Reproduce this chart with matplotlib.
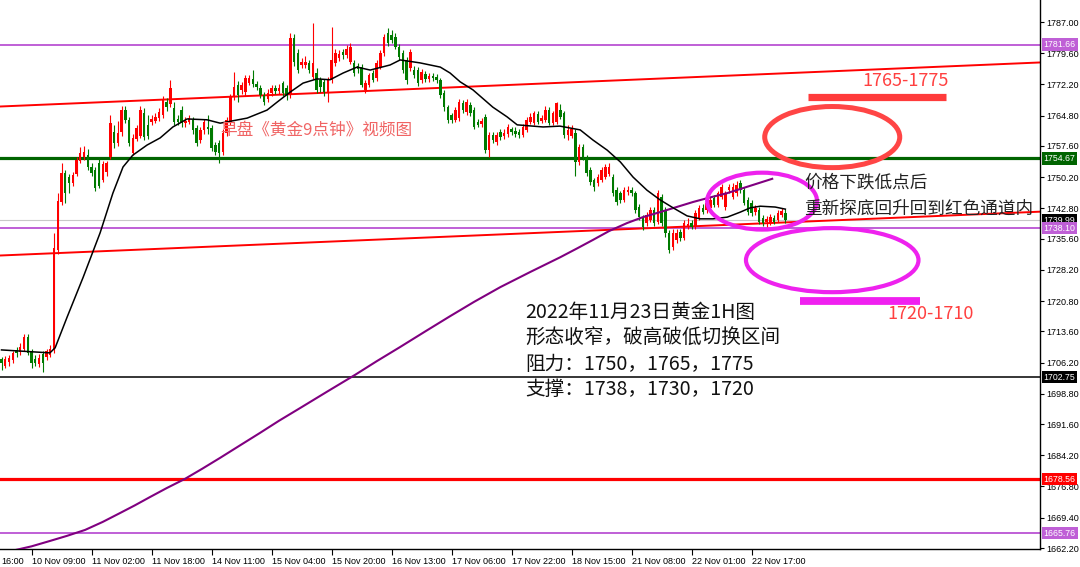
import matplotlib
matplotlib.use("Agg")
import matplotlib.pyplot as plt
from matplotlib.patches import Ellipse

plt.rcParams['font.family'] = ['Noto Sans CJK SC', 'DejaVu Sans']

# 1小时K线 (开, 高, 低, 收), 从图上读出来的
opens = [1707.0, 1705.5, 1706.3, 1706.8, 1709.3, 1708.6, 1709.5, 1712.3, 1708.8, 1707.0,
         1705.8, 1708.2, 1707.5, 1708.0, 1709.2, 1733.0, 1744.3, 1751.2, 1750.2, 1748.8,
         1751.0, 1754.0, 1755.0, 1755.5, 1752.6, 1751.9, 1753.5, 1749.5, 1751.5, 1755.0,
         1760.9, 1758.3, 1760.9, 1766.1, 1763.8, 1756.0, 1759.3, 1760.0, 1765.4, 1762.5,
         1763.3, 1763.5, 1764.2, 1764.9, 1768.0, 1767.5, 1766.6, 1764.0, 1766.1, 1763.0,
         1763.3, 1763.8, 1761.9, 1759.0, 1761.4, 1762.2, 1761.9, 1757.8, 1758.3, 1756.2,
         1760.7, 1763.3, 1769.2, 1772.1, 1770.9, 1770.4, 1772.5, 1773.5, 1772.3, 1771.4,
         1769.7, 1768.7, 1770.2, 1771.3, 1770.6, 1772.5, 1771.4, 1769.7, 1783.2, 1779.6,
         1776.8, 1776.9, 1777.3, 1774.0, 1774.9, 1773.2, 1772.8, 1770.4, 1773.2, 1777.3,
         1778.4, 1779.8, 1779.1, 1777.5, 1777.3, 1776.5, 1776.3, 1770.9, 1772.1, 1774.9,
         1773.7, 1776.3, 1779.6, 1784.4, 1783.9, 1783.4, 1781.1, 1779.6, 1778.0, 1776.0,
         1775.6, 1775.6, 1773.2, 1774.6, 1773.5, 1774.1, 1774.0, 1773.2, 1770.2, 1766.8,
         1764.9, 1763.8, 1764.2, 1767.8, 1765.7, 1767.3, 1766.1, 1763.3, 1762.8, 1764.5,
         1756.6, 1760.2, 1758.5, 1760.9, 1759.9, 1760.4, 1761.6, 1761.2, 1761.0, 1760.2,
         1761.4, 1763.3, 1763.0, 1765.2, 1763.5, 1763.8, 1766.1, 1763.0, 1763.3, 1766.1,
         1765.4, 1760.2, 1760.0, 1760.7, 1753.8, 1757.3, 1754.7, 1751.9, 1749.5, 1748.8,
         1749.5, 1750.2, 1751.0, 1750.2, 1747.1, 1746.4, 1744.8, 1746.6, 1747.1, 1746.4,
         1743.1, 1740.7, 1739.3, 1740.0, 1742.4, 1739.6, 1745.5, 1742.4, 1737.0, 1733.6,
         1735.3, 1737.2, 1735.8, 1738.6, 1739.3, 1738.4, 1740.5, 1742.9, 1742.4, 1742.9,
         1745.3, 1743.6, 1745.5, 1743.1, 1747.1, 1745.5, 1746.4, 1748.8, 1747.1, 1744.8,
         1744.1, 1741.9, 1742.4, 1740.5, 1739.5, 1739.3, 1740.5, 1740.0, 1741.2, 1741.7]
highs = [1707.5, 1707.8, 1708.0, 1709.0, 1710.0, 1710.8, 1713.0, 1713.0, 1709.5, 1708.0,
         1708.2, 1709.0, 1709.5, 1710.3, 1737.0, 1746.5, 1753.5, 1752.0, 1751.0, 1751.5,
         1755.0, 1757.3, 1757.5, 1756.8, 1753.5, 1752.5, 1754.5, 1754.0, 1754.0, 1765.0,
         1762.5, 1763.5, 1767.0, 1767.0, 1764.5, 1760.5, 1762.5, 1767.0, 1766.5, 1765.0,
         1765.0, 1765.3, 1766.5, 1769.5, 1769.0, 1773.2, 1768.0, 1765.0, 1767.0, 1764.5,
         1765.0, 1764.5, 1762.5, 1762.0, 1764.0, 1765.0, 1762.5, 1758.5, 1759.0, 1761.5,
         1764.5, 1770.0, 1775.1, 1773.0, 1772.8, 1774.5, 1774.5, 1775.5, 1773.0, 1772.0,
         1770.5, 1771.0, 1772.0, 1772.0, 1772.2, 1773.0, 1772.0, 1784.4, 1784.2, 1780.5,
         1778.5, 1779.0, 1778.0, 1786.8, 1776.0, 1774.0, 1773.5, 1774.0, 1785.8, 1780.5,
         1780.3, 1780.5, 1781.5, 1782.0, 1778.0, 1777.3, 1777.0, 1773.2, 1775.0, 1775.6,
         1778.0, 1780.3, 1784.2, 1785.5, 1785.0, 1784.3, 1781.8, 1780.3, 1778.8, 1780.5,
         1776.5, 1776.3, 1775.8, 1775.3, 1775.0, 1774.8, 1774.7, 1773.8, 1770.9, 1767.3,
         1765.5, 1766.8, 1768.8, 1768.5, 1768.7, 1768.0, 1766.8, 1764.0, 1764.2, 1765.2,
         1761.0, 1761.0, 1761.0, 1761.5, 1761.5, 1762.8, 1762.2, 1762.0, 1761.5, 1762.8,
         1764.5, 1765.3, 1766.0, 1766.0, 1765.0, 1767.0, 1766.8, 1766.0, 1768.0, 1767.5,
         1766.0, 1762.5, 1762.5, 1761.5, 1758.0, 1758.0, 1755.5, 1752.5, 1750.0, 1751.0,
         1752.5, 1753.3, 1753.5, 1751.0, 1747.8, 1747.0, 1747.8, 1748.0, 1747.8, 1747.0,
         1743.8, 1741.3, 1742.0, 1743.0, 1743.0, 1747.1, 1746.2, 1743.0, 1737.6, 1737.8,
         1737.8, 1738.0, 1740.0, 1740.5, 1740.0, 1742.5, 1743.5, 1743.8, 1744.8, 1745.5,
         1746.0, 1747.0, 1748.5, 1747.0, 1748.5, 1748.8, 1749.3, 1749.5, 1747.8, 1745.5,
         1744.8, 1743.5, 1743.0, 1741.2, 1741.0, 1741.5, 1741.2, 1742.4, 1742.9, 1742.6]
lows = [1704.5, 1704.8, 1705.5, 1706.0, 1707.5, 1708.0, 1709.0, 1708.0, 1705.0, 1705.5,
        1705.2, 1704.0, 1706.8, 1707.5, 1708.5, 1732.0, 1743.5, 1744.0, 1746.5, 1748.0,
        1750.5, 1753.5, 1754.3, 1752.0, 1750.5, 1747.0, 1747.5, 1749.0, 1750.5, 1754.5,
        1757.0, 1757.5, 1760.0, 1763.0, 1757.5, 1755.5, 1758.8, 1759.5, 1759.0, 1759.2,
        1762.5, 1763.0, 1763.5, 1764.3, 1766.0, 1766.8, 1762.5, 1762.5, 1762.0, 1762.0,
        1762.8, 1760.5, 1757.5, 1758.3, 1760.5, 1760.5, 1756.5, 1755.5, 1753.5, 1755.5,
        1760.0, 1762.5, 1768.5, 1768.0, 1770.0, 1769.5, 1772.0, 1771.5, 1770.8, 1769.0,
        1767.3, 1768.0, 1769.5, 1770.0, 1770.0, 1769.5, 1768.5, 1769.0, 1776.5, 1775.0,
        1776.0, 1776.0, 1775.0, 1773.5, 1770.2, 1770.5, 1769.5, 1768.0, 1772.5, 1776.5,
        1777.8, 1778.3, 1778.5, 1777.0, 1774.3, 1775.0, 1771.5, 1770.2, 1771.5, 1772.8,
        1773.0, 1775.8, 1779.0, 1781.3, 1782.0, 1780.5, 1778.0, 1775.0, 1772.3, 1775.3,
        1773.8, 1771.7, 1772.5, 1772.8, 1772.8, 1773.0, 1772.5, 1769.0, 1766.0, 1763.0,
        1763.0, 1763.2, 1763.5, 1765.5, 1765.0, 1764.8, 1761.5, 1762.0, 1762.2, 1756.0,
        1755.0, 1758.3, 1757.8, 1759.0, 1759.3, 1759.8, 1760.2, 1759.8, 1759.5, 1759.7,
        1761.0, 1762.8, 1762.5, 1762.7, 1763.0, 1763.3, 1762.5, 1762.5, 1762.8, 1764.0,
        1759.5, 1759.0, 1759.5, 1750.5, 1753.0, 1754.3, 1750.5, 1748.3, 1747.0, 1748.0,
        1749.0, 1749.8, 1750.5, 1745.7, 1743.5, 1744.0, 1744.3, 1746.0, 1745.8, 1741.7,
        1740.0, 1737.7, 1738.6, 1739.5, 1738.6, 1739.0, 1738.6, 1736.0, 1732.2, 1733.0,
        1734.5, 1735.0, 1735.2, 1738.0, 1737.8, 1737.8, 1740.0, 1741.5, 1741.8, 1742.3,
        1743.0, 1743.0, 1745.0, 1742.5, 1746.5, 1745.0, 1745.8, 1746.5, 1743.5, 1741.2,
        1741.0, 1741.3, 1739.0, 1738.6, 1738.4, 1738.8, 1739.0, 1739.5, 1740.7, 1739.3]
closes = [1706.0, 1707.0, 1707.3, 1708.5, 1708.4, 1710.0, 1712.3, 1708.5, 1706.2, 1706.0,
          1707.4, 1706.0, 1709.0, 1709.5, 1733.5, 1744.5, 1751.2, 1746.4, 1748.8, 1750.7,
          1754.3, 1755.9, 1756.2, 1752.6, 1751.2, 1747.6, 1748.0, 1753.3, 1753.5, 1763.0,
          1758.3, 1760.7, 1766.1, 1763.8, 1758.3, 1759.5, 1761.9, 1766.1, 1759.7, 1760.0,
          1764.0, 1764.5, 1765.7, 1768.5, 1766.8, 1771.4, 1763.3, 1763.3, 1763.0, 1763.5,
          1764.2, 1761.4, 1758.3, 1761.4, 1763.3, 1761.6, 1757.1, 1756.2, 1756.0, 1760.7,
          1763.8, 1769.2, 1771.6, 1769.7, 1772.1, 1773.7, 1773.7, 1772.3, 1771.6, 1769.7,
          1768.0, 1770.2, 1771.4, 1770.6, 1771.4, 1770.2, 1769.7, 1783.2, 1777.5, 1775.6,
          1777.5, 1777.6, 1775.6, 1777.3, 1770.9, 1771.6, 1770.4, 1773.2, 1778.0, 1779.6,
          1779.4, 1779.1, 1780.6, 1781.1, 1774.9, 1775.8, 1772.1, 1772.5, 1774.4, 1773.2,
          1777.3, 1779.6, 1783.4, 1782.0, 1782.7, 1781.1, 1778.7, 1775.6, 1773.2, 1779.9,
          1774.4, 1772.5, 1775.1, 1773.5, 1774.3, 1773.7, 1773.2, 1769.7, 1766.8, 1763.8,
          1763.8, 1766.1, 1768.0, 1766.1, 1768.0, 1765.4, 1762.1, 1762.6, 1763.5, 1756.6,
          1760.2, 1759.0, 1760.2, 1759.7, 1760.7, 1762.1, 1760.9, 1760.4, 1760.2, 1762.1,
          1763.8, 1764.5, 1765.4, 1763.2, 1764.2, 1766.1, 1763.0, 1765.4, 1767.8, 1764.5,
          1760.2, 1761.4, 1761.6, 1753.8, 1757.3, 1755.0, 1751.2, 1749.0, 1747.9, 1750.2,
          1751.9, 1752.6, 1752.6, 1746.4, 1744.3, 1744.8, 1747.1, 1747.1, 1746.4, 1742.4,
          1740.7, 1738.4, 1741.2, 1742.4, 1739.3, 1746.4, 1739.3, 1737.0, 1732.9, 1737.0,
          1737.0, 1735.8, 1739.3, 1739.1, 1738.4, 1741.7, 1742.9, 1742.0, 1744.1, 1744.8,
          1743.6, 1746.4, 1747.9, 1746.4, 1747.9, 1747.9, 1748.3, 1747.1, 1744.1, 1741.9,
          1741.7, 1742.9, 1739.6, 1739.3, 1740.3, 1740.7, 1739.5, 1741.7, 1742.1, 1739.99]

# 均线 (黑色短期, 紫色长期), 按K线序号取点
ma_fast_x = [0, 12.9, 14.3, 17.5, 21.8, 26.3, 29.7, 32.4, 35, 38.8, 42.3, 45.7, 49.5, 54.8,
             58.3, 65.5, 70.8, 73.5, 77, 80.4, 84.1, 87.6, 91.1, 94.8, 98.3, 103.6, 106.3,
             111.6, 117, 119.6, 122.3, 125.7, 131, 134.8, 137.5, 144.4, 148.9, 154.3, 157.7,
             161.5, 165, 168.4, 172.1, 175.6, 179.1, 182.8, 186.3, 189.7, 193.5, 197, 199.6,
             202.3, 206.3, 209]
ma_fast_y = [1709.2, 1708.5, 1709.7, 1717.0, 1726.5, 1737.0, 1746.4, 1752.6, 1755.4, 1757.8,
             1759.5, 1762.1, 1764.0, 1763.8, 1763.0, 1764.2, 1766.1, 1768.0, 1770.4, 1772.5,
             1773.5, 1773.3, 1774.9, 1776.3, 1775.6, 1776.8, 1778.0, 1777.3, 1776.3, 1774.9,
             1772.8, 1770.9, 1766.8, 1764.5, 1762.6, 1762.1, 1762.3, 1761.4, 1759.0, 1756.6,
             1753.8, 1750.2, 1747.1, 1744.8, 1742.9, 1741.0, 1740.3, 1740.3, 1740.7, 1741.9,
             1742.9, 1743.3, 1743.1, 1742.6]
ma_slow_x = [0, 3.6, 8, 13, 17.5, 22.3, 27, 31.6, 35.5, 39.6, 44, 48.9, 53.5, 58.3, 63.5,
             68.9, 74, 79.6, 87, 94.3, 100, 106.3, 113, 119.6, 126, 133, 141, 149, 153.5,
             157.7, 162, 166.8, 171, 175.6, 180, 184.4, 189, 193.5, 199.5, 205.5]
ma_slow_y = [1661.0, 1661.7, 1662.6, 1663.9, 1665.1, 1666.5, 1668.4, 1670.5, 1672.3, 1674.3,
             1676.4, 1678.6, 1681.0, 1683.6, 1686.5, 1689.5, 1692.4, 1695.4, 1699.4, 1703.3,
             1706.5, 1709.9, 1713.6, 1717.2, 1720.6, 1724.1, 1727.7, 1731.2, 1733.3, 1735.3,
             1737.4, 1739.3, 1740.7, 1741.9, 1743.1, 1744.3, 1745.4, 1746.4, 1748.1, 1749.8]

# 水平线 (价格, 颜色, 线宽)
hlines = [(1781.66, '#bf5fd6', 1.4), (1754.67, '#006400', 2.3), (1739.99, '#c8c8c8', 0.8),
          (1738.10, '#bf5fd6', 1.4), (1702.75, '#000000', 1.1), (1678.56, '#ff0000', 2.3),
          (1665.76, '#bf5fd6', 1.4)]
# 右边价格标签
price_tags = [(1781.66, '#bf5fd6'), (1754.67, '#006400'), (1739.99, '#000000'),
              (1738.10, '#bf5fd6'), (1702.75, '#000000'), (1678.56, '#ff0000'),
              (1665.76, '#bf5fd6')]

# 红色通道
chan_x = [-0.4, 276.9]
chan_top = [1766.95, 1777.4]
chan_bot = [1731.6, 1742.0]

y_ticks = [1787.00, 1779.60, 1772.20, 1764.80, 1757.60, 1750.20, 1742.80, 1735.60, 1728.20,
           1720.80, 1713.60, 1706.20, 1698.80, 1691.60, 1684.20, 1676.80, 1669.40, 1662.20]
x_ticks = [8, 24, 40, 56, 72, 88, 104, 120, 136, 152, 168, 184, 200]
x_labels = ['10 Nov 09:00', '11 Nov 02:00', '11 Nov 18:00', '14 Nov 11:00', '15 Nov 04:00',
            '15 Nov 20:00', '16 Nov 13:00', '17 Nov 06:00', '17 Nov 22:00', '18 Nov 15:00',
            '21 Nov 08:00', '22 Nov 01:00', '22 Nov 17:00']

axis_font = 'Liberation Sans'
axis_size = 6.5

fig = plt.figure(figsize=(10.8, 5.67), dpi=100)
ax = fig.add_axes([0, 18 / 567, 1040 / 1080, 549 / 567])
ax.set_xlim(-0.4, 276.9)
ax.set_ylim(1661.97, 1792.22)

for p, c, w in hlines:
    ax.axhline(p, color=c, lw=w, zorder=1)

ax.plot(chan_x, chan_top, color='#ff0000', lw=1.4, zorder=1)
ax.plot(chan_x, chan_bot, color='#ff0000', lw=1.4, zorder=1)

# K线
for i in range(len(closes)):
    col = '#ff0000' if closes[i] >= opens[i] else '#007a00'
    ax.vlines(i, lows[i], highs[i], color=col, lw=0.8, zorder=3)
    lo = min(opens[i], closes[i])
    hi = max(opens[i], closes[i])
    ax.bar(i, max(hi - lo, 0.15), bottom=lo, width=0.66, color=col, lw=0, zorder=3)

ax.plot(ma_slow_x, ma_slow_y, color='#800080', lw=1.5, zorder=4)
ax.plot(ma_fast_x, ma_fast_y, color='#000000', lw=1.1, zorder=4)

# 圈和色块
ax.add_patch(Ellipse((221.5, 1759.7), 36, 14.5, fill=False, ec='#ff4545', lw=3.6, zorder=5))
ax.add_patch(Ellipse((202.8, 1744.5), 29.3, 13.5, fill=False, ec='#ee22ee', lw=3.0, zorder=5))
ax.add_patch(Ellipse((221.5, 1730.5), 46, 15.2, fill=False, ec='#ee22ee', lw=3.0, zorder=5))
ax.plot([215.1, 251.9], [1769.3, 1769.3], color='#ff3b3b', lw=5.2, solid_capstyle='butt', zorder=5)
ax.plot([213.0, 245.0], [1720.8, 1720.8], color='#f020f0', lw=5.6, solid_capstyle='butt', zorder=5)

ax.text(229.5, 1770.8, '1765-1775', color='#ff4040', fontsize=13, va='bottom', zorder=6)
ax.text(236.2, 1719.8, '1720-1710', color='#ff4040', fontsize=13, va='top', zorder=6)
ax.text(214.1, 1748.8, '价格下跌低点后', color='#222222', fontsize=12.7, va='center', zorder=6)
ax.text(214.1, 1742.6, '重新探底回升回到红色通道内', color='#222222', fontsize=12.7,
        va='center', zorder=6)
ax.text(58.3, 1761.3, '早盘《黄金9点钟》视频图', color='#f06464', fontsize=12, va='center', zorder=6)

info = ['2022年11月23日黄金1H图', '形态收窄，破高破低切换区间',
        '阻力：1750，1765，1775', '支撑：1738，1730，1720']
for k, line in enumerate(info):
    ax.text(139.6, 1718.0 - k * 6.1, line, color='#111111', fontsize=14.1, va='center', zorder=6)

# 坐标轴
for s in ['top', 'left']:
    ax.spines[s].set_visible(False)
ax.spines['right'].set_linewidth(1.0)
ax.spines['bottom'].set_linewidth(1.0)
ax.yaxis.tick_right()
ax.set_yticks(y_ticks)
ax.set_yticklabels(['%.2f' % v for v in y_ticks])
ax.tick_params(axis='y', direction='out', length=3, width=0.8, pad=1.5, labelsize=axis_size)
ax.set_xticks(x_ticks)
ax.set_xticklabels(x_labels)
ax.tick_params(axis='x', direction='out', length=4, width=0.8, pad=1.5, labelsize=axis_size)
for lab in ax.get_xticklabels() + ax.get_yticklabels():
    lab.set_fontfamily(axis_font)
for lab in ax.get_xticklabels():
    lab.set_ha('left')
# 左边被截掉的 "9 Nov 16:00" 只露出时间部分
ax.annotate('16:00', xy=(0, 0), xycoords='axes fraction', xytext=(1, -5.5),
            textcoords='offset points', fontsize=axis_size, family=axis_font,
            va='top', ha='left', annotation_clip=False)

for p, c in price_tags:
    ax.text(1.0035, p, '%.2f' % p, transform=ax.get_yaxis_transform(), color='white',
            fontsize=axis_size - 0.2, family=axis_font, va='center', ha='left', clip_on=False,
            zorder=7, bbox=dict(boxstyle='square,pad=0.2', fc=c, ec='none'))

fig.savefig('out.png', dpi=100)
